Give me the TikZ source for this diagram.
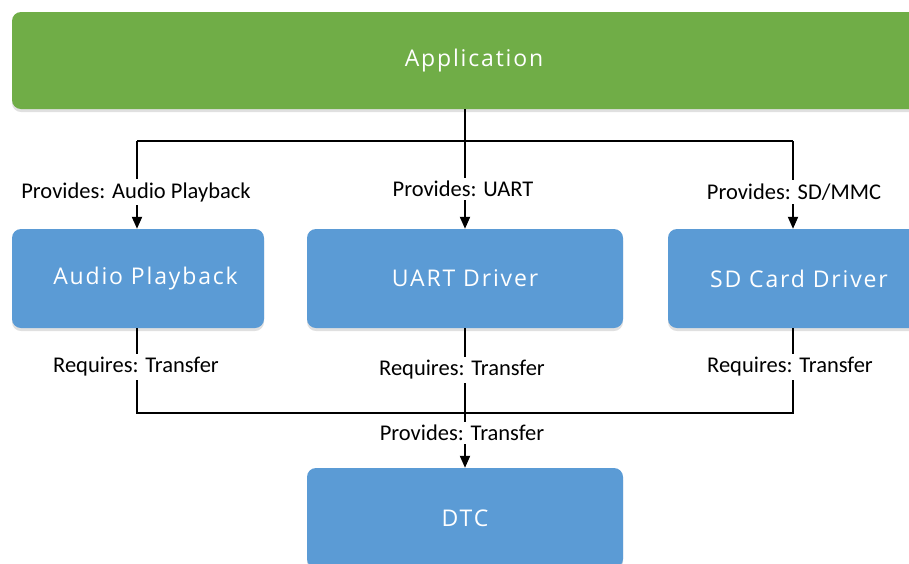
\documentclass[tikz,border=0pt]{standalone}
\usepackage{fontspec}
\setmainfont{Carlito}
\newfontfamily\boxfont[LetterSpace=8]{Open Sans}
\usetikzlibrary{arrows.meta,shadows}
\definecolor{appgreen}{HTML}{70AD47}
\definecolor{modblue}{HTML}{5B9BD5}
\begin{document}
\begin{tikzpicture}[x=1pt,y=-1pt,
  block/.style={rounded corners=9pt, inner sep=0pt, text=white,
    font=\boxfont\fontsize{23}{27}\selectfont,
    drop shadow={shadow xshift=0pt, shadow yshift=-3pt, opacity=0.12, fill=black}},
  appbox/.style={block, fill=appgreen},
  modbox/.style={block, fill=modblue},
  conn/.style={line width=2pt, draw=black},
  tip/.style={conn, -{Triangle[length=12pt,width=10pt]}},
  lab/.style={fill=white, inner xsep=1pt, inner ysep=3.5pt, font=\fontsize{22.5}{26}\selectfont}]
\clip (0,0) rectangle (909,563);
\fill[white] (0,0) rectangle (909,563);

% layers
\node[appbox, minimum width=924pt, minimum height=97pt] (app) at (474,60.5) {Application};
\node[modbox, minimum width=252pt, minimum height=99pt] (audio) at (138,278.5) {\hspace*{15pt}Audio Playback};
\node[modbox, minimum width=316pt, minimum height=99pt] (uart) at (465,278.5) {UART Driver};
\node[modbox, minimum width=262pt, minimum height=99pt] (sd) at (799,278.5) {SD Card Driver};
\node[modbox, minimum width=316pt, minimum height=100pt] (dtc) at (465,518) {DTC};

% connector columns and buses
\coordinate (colA) at (137,0);
\coordinate (colB) at (465,0);
\coordinate (colC) at (793,0);
\coordinate (topbus) at (465,141);
\coordinate (lowbus) at (465,413);

% application to the drivers
\draw[conn] (app.south -| colB) -- (topbus);
\draw[conn] (colA |- topbus) -- (colC |- topbus);
\draw[tip] (colA |- topbus) -- (colA |- audio.north);
\draw[tip] (topbus) -- (colB |- uart.north);
\draw[tip] (colC |- topbus) -- (colC |- sd.north);

% drivers to the DTC
\draw[conn] (colA |- audio.south) -- (colA |- lowbus) -- (colC |- lowbus) -- (colC |- sd.south);
\draw[tip] (colB |- uart.south) -- (colB |- dtc.north);

% interface labels
\node[lab] (pa) at (136,192) {Provides: Audio Playback};
\node[lab] (pu) at (463,189) {Provides: UART};
\node[lab] (ps) at (794,192) {Provides: SD/MMC};
\node[lab] (ra) at (136,367) {Requires: Transfer};
\node[lab] (ru) at (462,370) {Requires: Transfer};
\node[lab] (rs) at (790,367) {Requires: Transfer};
\node[lab] (pt) at (462,433) {Provides: Transfer};
\end{tikzpicture}
\end{document}
